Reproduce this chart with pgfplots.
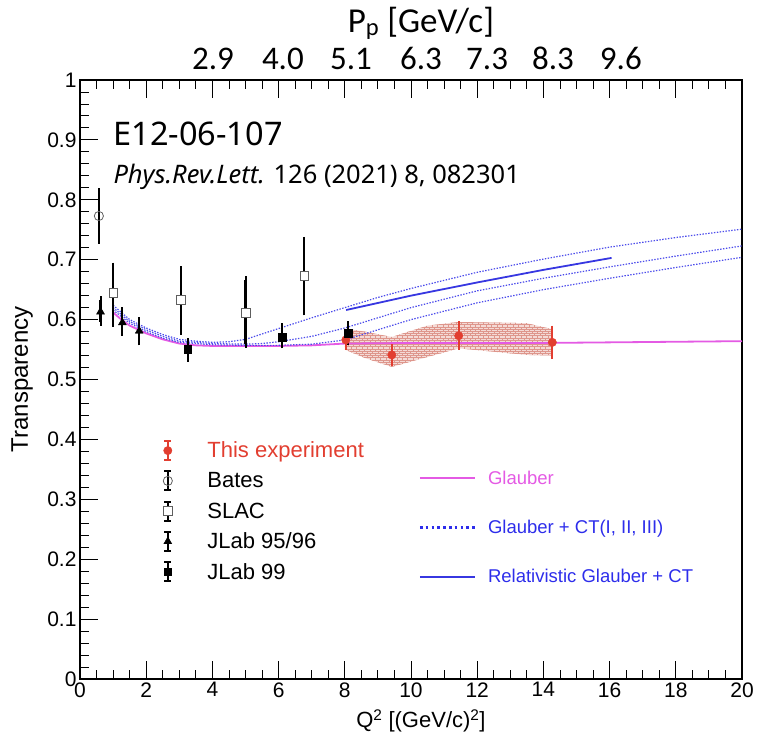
\documentclass[border=0pt]{standalone}
\usepackage{fontspec}
\setmainfont{Liberation Sans}
\newfontfamily\notosans{Noto Sans}
\newfontfamily\carlito{Carlito}
\usepackage{pgfplots}
\pgfplotsset{compat=1.18}
\usetikzlibrary{patterns}

\definecolor{expred}{RGB}{226,62,48}
\definecolor{glaub}{RGB}{228,90,228}
\definecolor{ctblue}{RGB}{75,75,235}
\definecolor{relblue}{RGB}{55,55,225}
\definecolor{legblue}{RGB}{45,45,235}
\definecolor{markgray}{RGB}{95,95,95}
\definecolor{bandred}{RGB}{222,150,140}
\definecolor{bandfill}{RGB}{244,218,214}

% fine brick texture of the systematic band
\pgfdeclarepatternformonly{smallbricks}{\pgfqpoint{-0.5bp}{-0.5bp}}{\pgfqpoint{6bp}{5bp}}{\pgfqpoint{5.4bp}{4.4bp}}{
  \pgfsetlinewidth{0.5bp}
  \pgfpathmoveto{\pgfqpoint{0bp}{0bp}}\pgfpathlineto{\pgfqpoint{5.4bp}{0bp}}
  \pgfpathmoveto{\pgfqpoint{0bp}{2.2bp}}\pgfpathlineto{\pgfqpoint{5.4bp}{2.2bp}}
  \pgfpathmoveto{\pgfqpoint{0bp}{0bp}}\pgfpathlineto{\pgfqpoint{0bp}{2.2bp}}
  \pgfpathmoveto{\pgfqpoint{2.7bp}{2.2bp}}\pgfpathlineto{\pgfqpoint{2.7bp}{4.4bp}}
  \pgfusepath{stroke}}

\newcommand{\fs}[1]{\fontsize{#1bp}{#1bp}\selectfont}

\pgfplotsset{
  base/.style={width=662bp, height=599bp, scale only axis,
    xmin=0, xmax=20, ymin=0, ymax=1, at={(0,0)}, clip=false},
  errleg/.style={legend image code/.code={
    \draw[##1, mark=none, line width=1.8bp] (0bp,-9.5bp)--(0bp,9.5bp)
      (-3.5bp,-9.5bp)--(3.5bp,-9.5bp) (-3.5bp,9.5bp)--(3.5bp,9.5bp);
    \draw[##1] plot coordinates {(0bp,0bp)};}},
  linleg/.style={legend image code/.code={
    \draw[#1] (0bp,0bp)--(55bp,0bp);}},
  ebar/.style={error bars/.cd, y dir=both, y explicit,
    error bar style={#1, line width=2.1bp},
    error mark options={#1, line width=2bp, mark size=3.6bp}},
}
\tikzset{toplab/.style={anchor=base, font=\carlito\fs{33}}}

\begin{document}
\begin{tikzpicture}
% theory curves, band, frame and labels
\begin{axis}[base,
  axis line style={line width=1.2bp},
  xtick={0,2,...,20}, minor x tick num=3, xtick pos=both,
  ytick={0,0.1,0.2,0.3,0.4,0.5,0.6,0.7,0.8,0.9,1}, minor y tick num=4, ytick pos=left,
  tick align=inside, major tick length=18bp, minor tick length=9bp,
  tick style={black, line width=0.9bp},
  ticklabel style={font=\fs{21}},
  /pgf/number format/assume math mode=true,
  xlabel={Q\textsuperscript{2} [(GeV/c)\textsuperscript{2}]},
  xlabel style={font=\fs{22}, at={(axis description cs:0.515,0)}, anchor=north, yshift=-27bp},
  ylabel={Transparency},
  ylabel style={font=\fs{24}, at={(axis description cs:-0.0876,0.5)}, anchor=center},
  legend style={at={(axis description cs:0.5115,0.348)}, anchor=north west,
    draw=none, fill=none, font=\fs{18.5}, inner sep=0pt,
    nodes={inner sep=0pt}, column sep=12bp, row sep=34.5bp},
  legend cell align=left,
]
\addplot[draw=none, fill=bandfill, forget plot] coordinates {
  (8.0,0.585) (8.6,0.580) (9.42,0.571) (10.5,0.590) (11.44,0.596) (13.5,0.594) (14.27,0.584)
  (14.27,0.540) (13.5,0.541) (11.44,0.552) (9.42,0.521) (8.6,0.536) (8.0,0.550)} -- cycle;
\addplot[draw=none, pattern=smallbricks, pattern color=bandred, forget plot] coordinates {
  (8.0,0.585) (8.6,0.580) (9.42,0.571) (10.5,0.590) (11.44,0.596) (13.5,0.594) (14.27,0.584)
  (14.27,0.540) (13.5,0.541) (11.44,0.552) (9.42,0.521) (8.6,0.536) (8.0,0.550)} -- cycle;

\addplot[glaub, line width=1.8bp, linleg={glaub, line width=1.8bp}] coordinates {
  (1,0.612) (1.25,0.600) (1.5,0.590) (2,0.577) (2.5,0.567) (3,0.560) (3.5,0.557)
  (4,0.556) (5,0.556) (6,0.556) (7,0.557) (8,0.560) (10,0.561) (12,0.561)
  (14,0.561) (16,0.562) (18,0.563) (20,0.564)};
\addlegendentry{\textcolor{glaub}{Glauber}}

\addplot[ctblue, line width=1.2bp, dash pattern=on 1.4bp off 1.5bp,
  linleg={draw=legblue, line width=2.2bp, dash pattern=on 2.6bp off 3.2bp}] coordinates {
  (1,0.624) (1.5,0.600) (2,0.586) (2.5,0.575) (3,0.567) (3.5,0.564) (4,0.562)
  (4.5,0.563) (5,0.567) (5.5,0.576) (6,0.585) (7,0.603) (8,0.620) (9,0.637)
  (10,0.652) (12,0.679) (14,0.701) (16,0.721) (18,0.737) (20,0.751)};
\addlegendentry{\textcolor{legblue}{Glauber + CT(I, II, III)}}

\addplot[ctblue, line width=1.2bp, dash pattern=on 1.4bp off 1.5bp, forget plot] coordinates {
  (1,0.620) (1.5,0.597) (2,0.583) (2.5,0.572) (3,0.564) (4,0.560) (5,0.559)
  (5.5,0.560) (6,0.563) (7,0.572) (8,0.586) (9,0.603) (10,0.620) (12,0.648)
  (14,0.669) (16,0.688) (18,0.706) (20,0.723)};
\addplot[ctblue, line width=1.2bp, dash pattern=on 1.4bp off 1.5bp, forget plot] coordinates {
  (1,0.616) (1.5,0.594) (2,0.580) (2.5,0.569) (3,0.562) (4,0.558) (5,0.557)
  (6,0.557) (7,0.559) (8,0.566) (9,0.583) (10,0.600) (12,0.628) (14,0.650)
  (16,0.669) (18,0.687) (20,0.704)};

\addplot[relblue, line width=1.8bp, linleg={relblue, line width=1.8bp}] coordinates {
  (8.04,0.616) (10,0.640) (12,0.662) (14,0.683) (16.06,0.703)};
\addlegendentry{\textcolor{legblue}{Relativistic Glauber + CT}}

\node[anchor=base west, font=\notosans\fs{32.5}] at (axis cs:0.906,0.891) {E12-06-107};
\node[anchor=base west, font=\notosans\fs{25.5}] at (axis cs:0.906,0.828)
  {\textit{Phys.Rev.Lett.} 126 (2021) 8, 082301};
\node[anchor=base, font=\carlito\fs{35}] at (axis cs:10.3,1.080) {P\textsubscript{p} [GeV/c]};
\node[toplab] at (axis cs:4.02,1.0167) {2.9};
\node[toplab] at (axis cs:6.13,1.0167) {4.0};
\node[toplab] at (axis cs:8.19,1.0167) {5.1};
\node[toplab] at (axis cs:10.30,1.0167) {6.3};
\node[toplab] at (axis cs:12.30,1.0167) {7.3};
\node[toplab] at (axis cs:14.29,1.0167) {8.3};
\node[toplab] at (axis cs:16.34,1.0167) {9.6};
\end{axis}

% measured points
\begin{axis}[base, hide axis,
  legend style={at={(axis description cs:0.1254,0.399)}, anchor=north west,
    draw=none, fill=none, font=\fs{22}, inner sep=0pt,
    nodes={inner sep=0pt}, column sep=35bp, row sep=9.5bp},
  legend cell align=left,
]
\addplot[expred, only marks, mark=*, mark size=4.2bp, errleg, ebar=expred]
  table[x=x, y=y, y error plus=ep, y error minus=em] {
  x     y      ep     em
  8.03  0.566  0.010  0.010
  9.42  0.541  0.012  0.013
  11.44 0.573  0.018  0.017
  14.27 0.562  0.022  0.022
};
\addlegendentry{\textcolor{expred}{This experiment}}

\addplot[black, only marks, mark=o, mark size=4.6bp,
  mark options={draw=markgray, line width=0.8bp}, errleg, ebar=black]
  table[x=x, y=y, y error plus=ep, y error minus=em] {
  x     y      ep     em
  0.57  0.773  0.040  0.040
};
\addlegendentry{Bates}

\addplot[black, only marks, mark=square*, mark size=4.4bp,
  mark options={draw=markgray, fill=white, line width=0.8bp}, errleg, ebar=black]
  table[x=x, y=y, y error plus=ep, y error minus=em] {
  x     y      ep     em
  1.01  0.644  0.045  0.050
  3.05  0.633  0.050  0.052
  5.00  0.611  0.055  0.052
  6.78  0.673  0.059  0.060
};
\addlegendentry{SLAC}

\addplot[black, only marks, mark=triangle*, mark size=4.6bp, errleg, ebar=black]
  table[x=x, y=y, y error plus=ep, y error minus=em] {
  x     y      ep     em
  0.62  0.613  0.020  0.017
  1.28  0.595  0.020  0.016
  1.79  0.581  0.017  0.018
};
\addlegendentry{JLab 95/96}

\addplot[black, only marks, mark=square*, mark size=3.8bp, errleg, ebar=black]
  table[x=x, y=y, y error plus=ep, y error minus=em] {
  x     y      ep     em
  3.25  0.551  0.012  0.015
  6.10  0.571  0.017  0.013
  8.10  0.577  0.014  0.014
};
\addlegendentry{JLab 99}
\end{axis}
\pgfresetboundingbox
\path[use as bounding box] (-80bp,-57bp) rectangle (681bp,679bp);
\end{tikzpicture}
\end{document}
